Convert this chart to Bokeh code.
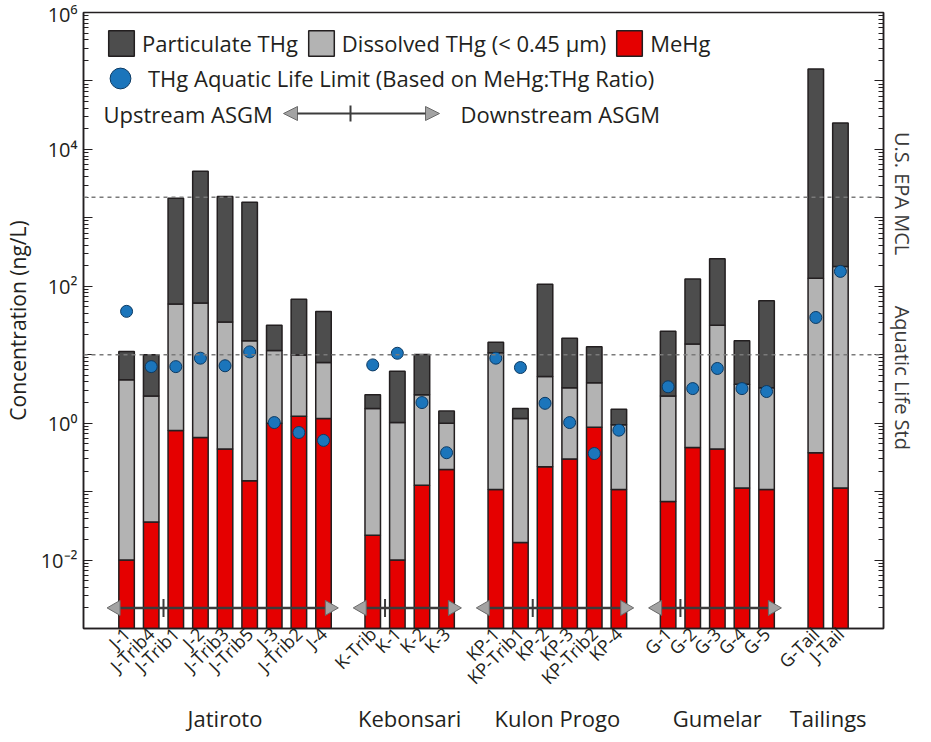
import math
from bokeh.plotting import figure
from bokeh.models import (FactorRange, Range1d, LogAxis, FixedTicker, CustomJSTickFormatter,
                          Span, Label, Legend, LegendItem, Arrow, NormalHead, ColumnDataSource)
from bokeh.embed import file_html
from bokeh.resources import INLINE

# ---------------- data (ng/L) ----------------
groups = (["Jatiroto"] * 9 + ["Kebonsari"] * 4 + ["Kulon Progo"] * 6 +
          ["Gumelar"] * 5 + ["Tailings"] * 2)
sites = ["J-1", "J-Trib4", "J-Trib1", "J-2", "J-Trib3", "J-Trib5", "J-3", "J-Trib2", "J-4",
         "K-Trib", "K-1", "K-2", "K-3",
         "KP-1", "KP-Trib1", "KP-2", "KP-3", "KP-Trib2", "KP-4",
         "G-1", "G-2", "G-3", "G-4", "G-5",
         "G-Tail", "J-Tail"]
mehg = [0.010, 0.036, 0.78, 0.62, 0.42, 0.144, 1.0, 1.26, 1.17,
        0.023, 0.010, 0.124, 0.21,
        0.107, 0.018, 0.23, 0.30, 0.87, 0.107,
        0.072, 0.44, 0.42, 0.113, 0.107,
        0.37, 0.113]
dissolved_thg = [4.3, 2.5, 55, 57, 30, 16, 11.5, 9.9, 7.7,
                 1.64, 1.02, 2.6, 1.0,
                 10.7, 1.17, 4.8, 3.3, 3.9, 0.95,
                 2.5, 14.4, 27, 3.7, 3.3,
                 131, 195]
particulate_thg = [6.8, 7.5, 1875, 4740, 2020, 1680, 15.5, 55, 35,
                   0.96, 4.7, 7.5, 0.5,
                   4.5, 0.47, 102, 14.1, 9.2, 0.65,
                   19.5, 113, 226, 12.3, 58,
                   149900, 24200]
aquatic_limit = [43, 6.7, 6.7, 8.9, 6.9, 11, 1.02, 0.73, 0.56,
                 7.1, 10.5, 2.0, 0.37,
                 8.9, 6.5, 1.95, 1.02, 0.36, 0.79,
                 3.4, 3.2, 6.3, 3.2, 2.9,
                 35, 165]
EPA_MCL = 2000
AQUATIC_STD = 10
ref_labels = ["U.S. EPA MCL", "Aquatic Life Std"]
# upstream/downstream arrows: (group, first site, last site, site just upstream of ASGM)
flow_arrows = [("Jatiroto", "J-1", "J-4", "J-Trib4"),
               ("Kebonsari", "K-Trib", "K-3", "K-Trib"),
               ("Kulon Progo", "KP-1", "KP-4", "KP-Trib1"),
               ("Gumelar", "G-1", "G-5", "G-1")]

Y_MIN, Y_MAX = 1e-3, 1e6
ARROW_Y = 0.002
REF_LABEL_POS = [18000, 52]   # where the rotated right-hand texts start

FONT = "Open Sans"
TXT = "#231f20"

factors = list(zip(groups, sites))
total_thg = [d + q for d, q in zip(dissolved_thg, particulate_thg)]
src = ColumnDataSource(dict(x=factors, floor=[Y_MIN] * len(sites), mehg=mehg,
                            diss=dissolved_thg, total=total_thg, lim=aquatic_limit))

FRAME_H = 616
p = figure(x_range=FactorRange(*factors, factor_padding=0, group_padding=1,
                               range_padding=1.25, range_padding_units="absolute"),
           y_range=Range1d(Y_MIN, Y_MAX), y_axis_type="log",
           frame_width=800, frame_height=FRAME_H, output_backend="svg", toolbar_location=None,
           min_border_left=80, min_border_right=0, min_border_top=12, min_border_bottom=0)
p.xgrid.visible = False
p.ygrid.visible = False
p.outline_line_color = TXT
p.outline_line_width = 1.5

# y axis
major = [10.0 ** k for k in range(-3, 7)]
minor = [m * 10.0 ** k for k in range(-3, 6) for m in range(2, 10)]
fmt_code = """
const e = Math.round(Math.log10(tick));
if (e % 2 !== 0) return "";
const sup = {"-":"\\u207b","0":"\\u2070","1":"\\u00b9","2":"\\u00b2","3":"\\u00b3",
             "4":"\\u2074","5":"\\u2075","6":"\\u2076","7":"\\u2077","8":"\\u2078","9":"\\u2079"};
return "10" + String(e).split("").map(c => sup[c]).join("");
"""
ya = p.yaxis[0]
ya.ticker = FixedTicker(ticks=major, minor_ticks=minor)
ya.formatter = CustomJSTickFormatter(code=fmt_code)
ya.axis_label = "Concentration (ng/L)"
ya.axis_label_text_font = FONT
ya.axis_label_text_font_size = "21px"
ya.axis_label_text_font_style = "normal"
ya.axis_label_text_color = TXT
ya.axis_label_standoff = 6
ya.major_label_text_font = FONT
ya.major_label_text_font_size = "20px"
ya.major_label_text_color = TXT
ya.major_label_standoff = 6

ra = LogAxis(ticker=FixedTicker(ticks=major, minor_ticks=minor),
             formatter=CustomJSTickFormatter(code="return '';"),
             major_label_text_font_size="0px", major_label_standoff=0)
p.add_layout(ra, "right")
for ax in [ya, ra]:
    ax.major_tick_in = 9
    ax.major_tick_out = 0
    ax.minor_tick_in = 5
    ax.minor_tick_out = 0
    ax.axis_line_color = TXT
    ax.axis_line_width = 1.5
    ax.major_tick_line_color = TXT
    ax.major_tick_line_width = 1.2
    ax.minor_tick_line_color = TXT

# right-hand texts for the reference lines (an axis of labels only)
lab_code = "const L = %s; const P = %s; return L[P.indexOf(tick)] ?? '';" % (
    str(ref_labels), str(REF_LABEL_POS))
la = LogAxis(ticker=FixedTicker(ticks=REF_LABEL_POS, minor_ticks=[]),
             formatter=CustomJSTickFormatter(code=lab_code),
             axis_line_color=None, major_tick_line_color=None, minor_tick_line_color=None,
             major_tick_in=0, major_tick_out=0, minor_tick_in=0, minor_tick_out=0,
             major_label_orientation=-math.pi / 2, major_label_standoff=19,
             major_label_text_font=FONT, major_label_text_font_size="20px",
             major_label_text_color="#3a3a3a")
p.add_layout(la, "right")

# x axis
xa = p.xaxis[0]
xa.major_tick_line_color = None
xa.minor_tick_line_color = None
xa.major_tick_out = 0
xa.major_tick_in = 0
xa.minor_tick_out = 0
xa.separator_line_color = None
xa.axis_line_color = TXT
xa.axis_line_width = 1.5
xa.major_label_orientation = math.pi / 4
xa.major_label_text_font = FONT
xa.major_label_text_font_size = "18px"
xa.major_label_text_color = TXT
xa.major_label_standoff = 2
xa.group_label_orientation = "horizontal"
xa.group_text_font = FONT
xa.group_text_font_size = "22px"
xa.group_text_font_style = "normal"
xa.group_text_color = TXT

# reference lines
for lvl in (EPA_MCL, AQUATIC_STD):
    p.add_layout(Span(location=lvl, dimension="width", line_color="#7a7a7a",
                      line_width=1.5, line_dash="4 4"))

# stacked bars
W = 0.63
r_me = p.vbar(x="x", bottom="floor", top="mehg", width=W, source=src,
              fill_color="#e50000", line_color=TXT, line_width=1.5)
r_di = p.vbar(x="x", bottom="mehg", top="diss", width=W, source=src,
              fill_color="#b3b3b3", line_color=TXT, line_width=1.5)
r_pa = p.vbar(x="x", bottom="diss", top="total", width=W, source=src,
              fill_color="#4d4d4d", line_color=TXT, line_width=1.5)

# flow arrows at the bottom
seg = dict(x0=[], x1=[], y=[])
heads_l, heads_r, ticks = [], [], []
for g, a, b, t in flow_arrows:
    seg["x0"].append((g, a, -0.66))
    seg["x1"].append((g, b, 0.47))
    seg["y"].append(ARROW_Y)
    heads_l.append((g, a, -0.44))
    heads_r.append((g, b, 0.25))
    ticks.append((g, t, 0.5))
p.segment(x0="x0", y0="y", x1="x1", y1="y", source=ColumnDataSource(seg),
          line_color="#3c3c3c", line_width=2.5)
p.scatter(x=heads_l, y=[ARROW_Y] * len(heads_l), marker="triangle", angle=math.pi / 2,
          size=15, fill_color="#a3a3a3", line_color="#6a6a6a", line_width=1)
p.scatter(x=heads_r, y=[ARROW_Y] * len(heads_r), marker="triangle", angle=-math.pi / 2,
          size=15, fill_color="#a3a3a3", line_color="#6a6a6a", line_width=1)
p.scatter(x=ticks, y=[ARROW_Y] * len(ticks), marker="dash", angle=math.pi / 2,
          size=18, line_color="#3c3c3c", line_width=2)

# aquatic life limit points
r_dot = p.scatter(x="x", y="lim", source=src, size=12, fill_color="#1b75bb",
                  line_color="#0c3a63", line_width=1)

# legends (positions measured from the frame's bottom-left corner)
leg1 = Legend(items=[LegendItem(label="Particulate THg", renderers=[r_pa]),
                     LegendItem(label="Dissolved THg (< 0.45 µm)", renderers=[r_di]),
                     LegendItem(label="MeHg", renderers=[r_me])],
              orientation="horizontal", location=(22, FRAME_H - 47), glyph_width=32,
              glyph_height=32, label_standoff=5, spacing=7, padding=0, margin=0,
              border_line_color=None, background_fill_alpha=0, label_text_font=FONT,
              label_text_font_size="22px", label_text_color=TXT, label_height=32)
leg2 = Legend(items=[LegendItem(label="THg Aquatic Life Limit (Based on MeHg:THg Ratio)",
                                renderers=[r_dot])],
              orientation="horizontal", location=(11, FRAME_H - 92), glyph_width=52,
              glyph_height=52, label_standoff=2, padding=0, margin=0, border_line_color=None,
              background_fill_alpha=0, label_text_font=FONT, label_text_font_size="22px",
              label_text_color=TXT)
p.add_layout(leg1)
p.add_layout(leg2)

ROW3 = FRAME_H - 101
lab_kw = dict(text_font=FONT, text_font_size="22px", text_color=TXT, text_baseline="middle",
              x_units="screen", y_units="screen")
p.add_layout(Label(x=20, y=ROW3, text="Upstream ASGM", **lab_kw))
p.add_layout(Label(x=377, y=ROW3, text="Downstream ASGM", **lab_kw))
head = dict(size=14, fill_color="#a3a3a3", line_color="#6a6a6a", line_width=1)
p.add_layout(Arrow(x_start=200, y_start=ROW3, x_end=356, y_end=ROW3, start_units="screen",
                   end_units="screen", start=NormalHead(**head), end=NormalHead(**head),
                   line_color="#3c3c3c", line_width=2))
p.add_layout(Arrow(x_start=267, y_start=ROW3 - 8, x_end=267, y_end=ROW3 + 8,
                   start_units="screen", end_units="screen", end=None,
                   line_color="#3c3c3c", line_width=2))

open("out.html", "w").write(file_html(p, INLINE))
